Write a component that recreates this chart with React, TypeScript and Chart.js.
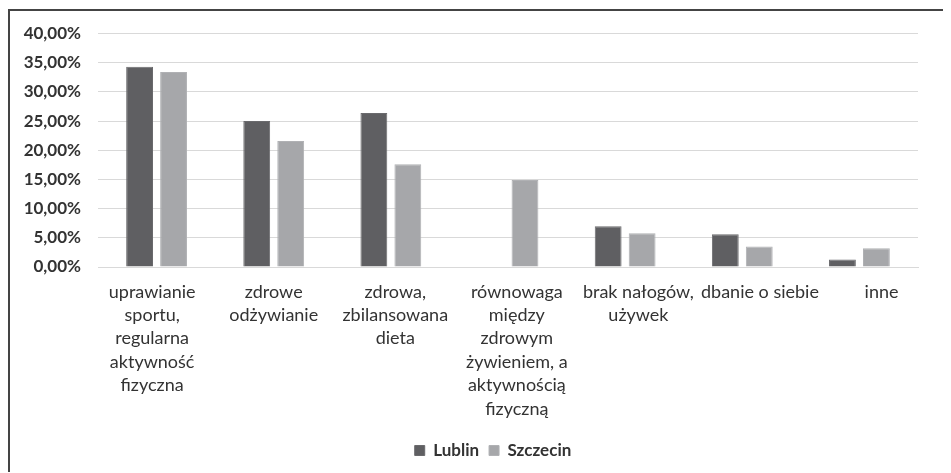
import React, { useEffect, useRef } from "react";
import { Chart, registerables } from "chart.js";

Chart.register(...registerables);

const categories: string[][] = [
  ["uprawianie", "sportu,", "regularna", "aktywność", "fizyczna"],
  ["zdrowe", "odżywianie"],
  ["zdrowa,", "zbilansowana", "dieta"],
  ["równowaga", "między", "zdrowym", "żywieniem, a", "aktywnością", "fizyczną"],
  ["brak nałogów,", "używek"],
  ["dbanie o siebie"],
  ["inne"],
];
const seriesNames = ["Lublin", "Szczecin"];
const lublin: (number | null)[] = [34.3, 25.0, 26.4, null, 7.0, 5.6, 1.3];
const szczecin: number[] = [33.4, 21.6, 17.6, 14.9, 5.8, 3.5, 3.2];
const yMin = 0;
const yMax = 40;
const yStep = 5;

const shiftLegend = {
  id: "shiftLegend",
  afterLayout(chart: any) {
    const lg = chart.legend;
    if (lg) {
      lg.left += 29;
      lg.right += 29;
    }
  },
};

export default function App() {
  const ref = useRef<HTMLCanvasElement>(null);
  useEffect(() => {
    document.body.style.overflow = "hidden";
    const ctx = ref.current!;
    const font = "Lato, 'Open Sans', sans-serif";
    const chart = new Chart(ctx, {
      type: "bar",
      data: {
        labels: categories.map((c) => c.join(" ")),
        datasets: [
          {
            label: seriesNames[0],
            data: lublin,
            backgroundColor: "#5f5f62",
            borderColor: "#6a6a6d",
            borderWidth: 1,
            categoryPercentage: 0.58,
            barPercentage: 0.79,
          },
          {
            label: seriesNames[1],
            data: szczecin,
            backgroundColor: "#a6a7aa",
            borderColor: "#b0b1b4",
            borderWidth: 1,
            categoryPercentage: 0.58,
            barPercentage: 0.79,
          },
        ],
      },
      plugins: [shiftLegend],
      options: {
        animation: false,
        responsive: false,
        maintainAspectRatio: false,
        layout: { padding: { left: 0, right: 33, top: 22.5, bottom: 4 } },
        plugins: {
          tooltip: { enabled: false },
          legend: {
            position: "bottom",
            labels: {
              boxWidth: 10,
              boxHeight: 10,
              padding: 10,
              color: "#333333",
              font: { family: font, size: 17, weight: "bold" },
            },
          },
        },
        scales: {
          x: {
            type: "category",
            display: false,
          },
          xl: {
            type: "linear",
            position: "bottom",
            min: -0.4454,
            max: 6.3,
            offset: false,
            grid: { display: false, drawTicks: false, offset: false },
            border: { display: true, color: "#d9d9d9", width: 1 },
            afterBuildTicks: (s: any) => {
              s.ticks = categories.map((_, i) => ({ value: i }));
            },
            ticks: {
              padding: 13,
              maxRotation: 0,
              autoSkip: false,
              color: "#333333",
              font: { family: font, size: 18, lineHeight: 1.3 },
              callback: (v: any) => categories[Math.round(Number(v))] ?? "",
            },
            afterFit: (s: any) => {
              s.height = 165;
            },
          },
          y: {
            min: yMin,
            max: yMax,
            grid: { color: "#d9d9d9", lineWidth: 1, drawTicks: false },
            border: { display: false },
            ticks: {
              stepSize: yStep,
              padding: 17,
              color: "#333333",
              font: { family: font, size: 17, weight: "bold" },
              callback: (v: any) => Number(v).toFixed(2).replace(".", ",") + "%",
            },
            afterFit: (s: any) => {
              s.width = 88;
              s.paddingTop = 10;
              s.paddingBottom = 10;
            },
          },
        },
      },
    });
    return () => chart.destroy();
  }, []);
  return (
    <div
      style={{
        position: "relative",
        top: 1,
        borderLeft: "2px solid #444",
        borderTop: "2px solid #444",
        width: 941,
        height: 462,
        background: "#ffffff",
      }}
    >
      <canvas ref={ref} width={941} height={462} style={{ display: "block" }} />
    </div>
  );
}
